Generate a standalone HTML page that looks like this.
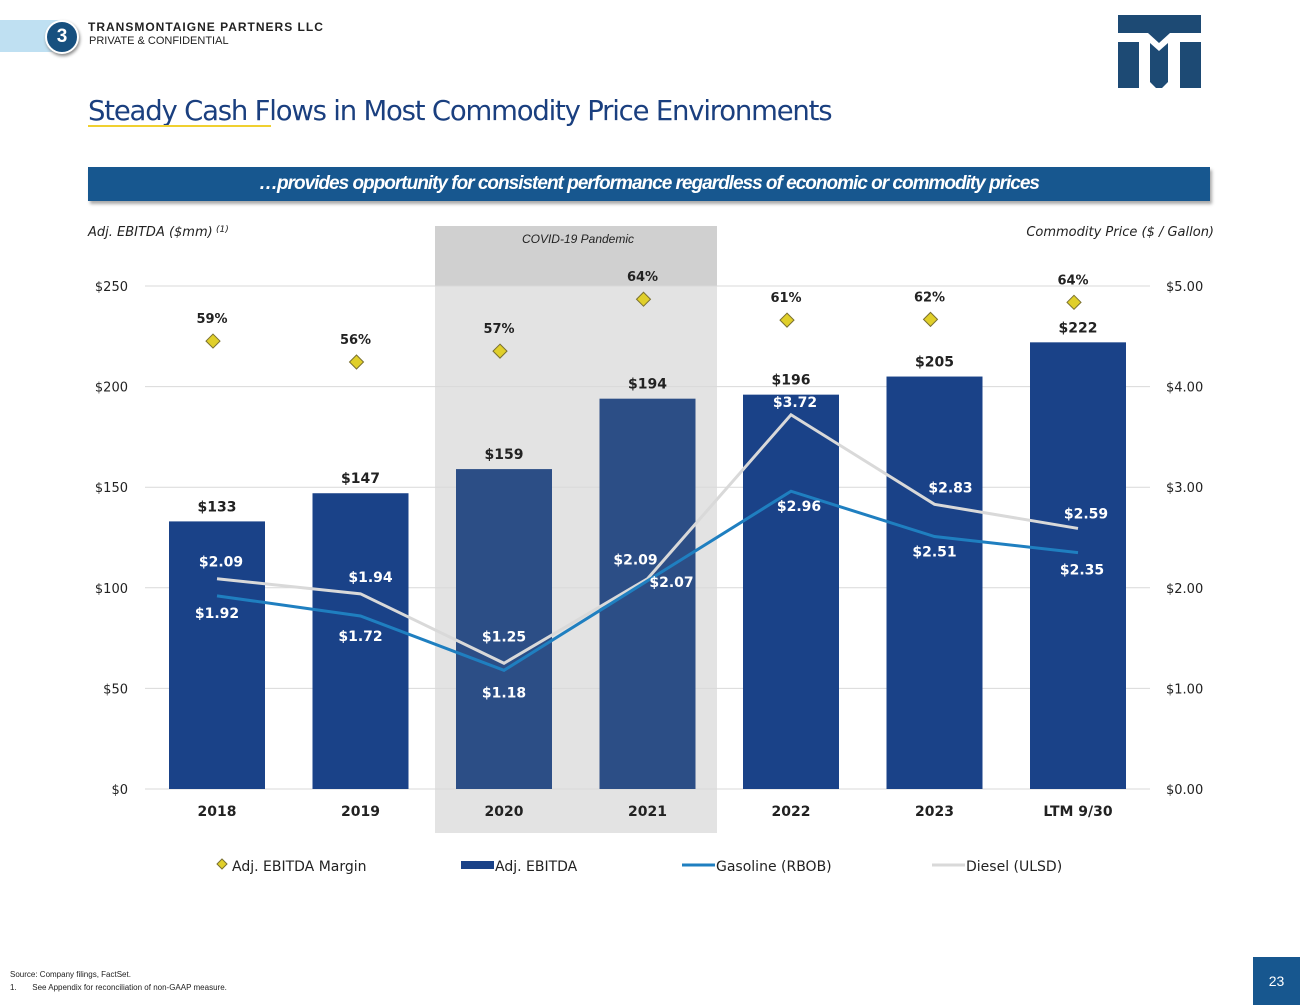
<!DOCTYPE html>
<html><head><meta charset="utf-8"><style>
body{margin:0;width:1300px;height:1005px;background:#fff;font-family:"Liberation Sans",sans-serif;position:relative;overflow:hidden}
.abs{position:absolute}
</style></head><body>
<div class="abs" style="left:0;top:20px;width:60px;height:32px;background:#bfe0f2"></div>
<div class="abs" style="left:45px;top:20px;width:30px;height:30px;border-radius:50%;background:#17507f;border:2px solid #fff;box-shadow:1px 2px 3px #888;color:#fff;font:bold 19px 'Liberation Sans';text-align:center;line-height:30px">3</div>
<div class="abs" style="left:88px;top:20px;font:bold 12px 'Liberation Sans';letter-spacing:1px;color:#222">TRANSMONTAIGNE PARTNERS LLC</div>
<div class="abs" style="left:89px;top:35px;font:11px 'Liberation Sans';color:#222">PRIVATE &amp; CONFIDENTIAL</div>
<svg class="abs" style="left:1118px;top:15px" width="83" height="73"><path fill="#1d4a74" d="M0 0H83V18H52L41 28L30 18H0Z M0 27H21V73H0Z M62 27H83V73H62Z M32 28L41 36L50 28V67L41 76L32 67Z"/></svg>
<div class="abs" style="left:88px;top:95px;font:27.5px 'DejaVu Sans','Liberation Sans',sans-serif;letter-spacing:-1.2px;color:#1a3f7f">Steady Cash Flows in Most Commodity Price Environments</div>
<div class="abs" style="left:88px;top:125px;width:183px;height:2px;background:#f0d030"></div>
<div class="abs" style="left:88px;top:167px;width:1122px;height:34px;background:#17578f;box-shadow:2px 3px 3px #aaa;color:#fff;font:bold italic 19px 'Liberation Sans';letter-spacing:-1px;text-align:center;line-height:34px">…provides opportunity for consistent performance regardless of economic or commodity prices</div>
<svg class="abs" style="left:0;top:0" width="1300" height="1005" id="chart"></svg>
<div class="abs" style="left:10px;top:968px;font:8px 'Liberation Sans';color:#222;line-height:13px">Source: Company filings, FactSet.<br>1.&nbsp;&nbsp;&nbsp;&nbsp;&nbsp;&nbsp;&nbsp;See Appendix for reconciliation of non-GAAP measure.</div>
<div class="abs" style="left:1253px;top:957px;width:47px;height:48px;background:#17578f;color:#fff;font:14px 'Liberation Sans';text-align:center;line-height:48px">23</div>
<script>
const categories=["2018","2019","2020","2021","2022","2023","LTM 9/30"];
const ebitda=[133,147,159,194,196,205,222];
const gasoline=[1.92,1.72,1.18,2.07,2.96,2.51,2.35];
const diesel=[2.09,1.94,1.25,2.09,3.72,2.83,2.59];
const margin=[58.7,56.0,57.4,64.1,61.4,61.5,63.7];
const leftTicks=[0,50,100,150,200,250];
const rightTicks=[0,1,2,3,4,5];
const gasOff=[[0,22],[0,25],[0,27],[24,6],[8,20],[0,20],[4,22]];
const dieOff=[[4,-12],[10,-12],[0,-22],[-12,-14],[4,-8],[16,-12],[8,-10]];
const NS="http://www.w3.org/2000/svg";
const svg=document.getElementById('chart');
const y0=789,yTop=286;
const yL=v=>y0-(v/250)*(y0-yTop);
const yR=v=>y0-(v/5)*(y0-yTop);
const yM=m=>300+(64-m)*7.75;
const xC=i=>217+i*143.5;
function mk(t,a,txt){const e=document.createElementNS(NS,t);for(const k in a)e.setAttribute(k,a[k]);if(txt!=null)e.textContent=txt;svg.appendChild(e);return e;}
let e=mk('rect',{x:435,y:226,width:282,height:607,fill:'#e3e3e3'});

e=mk('rect',{x:435,y:226,width:282,height:60,fill:'#d0d0d0'});

e=mk('text',{x:578,y:243,'text-anchor':'middle','font-size':12,'font-style':'italic','font-family':'Liberation Sans',fill:'#222'},'COVID-19 Pandemic');

leftTicks.forEach((t,i)=>{
 e=mk('line',{x1:145,x2:1150,y1:yL(t),y2:yL(t),stroke:'#d9d9d9','stroke-width':1});
 
 e=mk('text',{x:128,y:yL(t)+5,'text-anchor':'end','font-size':13,'font-family':'DejaVu Sans',fill:'#222'},'$'+t);
 
});
rightTicks.forEach(t=>{
 e=mk('text',{x:1166,y:yR(t)+5,'font-size':13,'font-family':'DejaVu Sans',fill:'#222'},'$'+t.toFixed(2));
 
});
e=mk('text',{x:88,y:236,'font-size':13,'font-style':'italic','font-family':'DejaVu Sans',fill:'#222'},'Adj. EBITDA ($mm)');

e=mk('text',{x:216,y:232,'font-size':9,'font-style':'italic','font-family':'DejaVu Sans',fill:'#222'},'(1)');

e=mk('text',{x:1214,y:236,'text-anchor':'end','font-size':13,'font-style':'italic','font-family':'DejaVu Sans',fill:'#222'},'Commodity Price ($ / Gallon)');

ebitda.forEach((v,i)=>{
 const cov=(i==2||i==3);
 e=mk('rect',{x:xC(i)-48,y:yL(v),width:96,height:y0-yL(v),fill:cov?'#2c4e86':'#1a4288'});
 
 e=mk('text',{x:xC(i),y:yL(v)-10,'text-anchor':'middle','font-size':14,'font-weight':'bold','font-family':'DejaVu Sans',fill:'#222'},'$'+v);
 
 e=mk('text',{x:xC(i),y:816,'text-anchor':'middle','font-size':14,'font-weight':'bold','font-family':'DejaVu Sans',fill:'#222'},categories[i]);
 
});
function line(vals,col,name){
 e=mk('polyline',{points:vals.map((v,i)=>xC(i)+','+yR(v)).join(' '),fill:'none',stroke:col,'stroke-width':3});
 
}
line(diesel,'#d9d9d9','diesel-line');
line(gasoline,'#1f7fc0','gasoline-line');
gasoline.forEach((v,i)=>{
 e=mk('text',{x:xC(i)+gasOff[i][0],y:yR(v)+gasOff[i][1],'text-anchor':'middle','font-size':14,'font-weight':'bold','font-family':'DejaVu Sans',fill:'#fff'},'$'+v.toFixed(2));
 
});
diesel.forEach((v,i)=>{
 e=mk('text',{x:xC(i)+dieOff[i][0],y:yR(v)+dieOff[i][1],'text-anchor':'middle','font-size':14,'font-weight':'bold','font-family':'DejaVu Sans',fill:'#fff'},'$'+v.toFixed(2));
 
});
margin.forEach((m,i)=>{
 const x=xC(i)-4,y=yM(m);
 e=mk('polygon',{points:`${x},${y-7} ${x+7},${y} ${x},${y+7} ${x-7},${y}`,fill:'#e0cf2a',stroke:'#7a7030','stroke-width':1});
 
 e=mk('text',{x:x-1,y:y-18,'text-anchor':'middle','font-size':13,'font-weight':'bold','font-family':'DejaVu Sans',fill:'#222'},Math.round(m)+'%');
 
});
e=mk('polygon',{points:'222,859 227,864 222,869 217,864',fill:'#e0cf2a',stroke:'#7a7030'});

e=mk('text',{x:232,y:871,'font-size':14,'font-family':'DejaVu Sans',fill:'#222'},'Adj. EBITDA Margin');

e=mk('rect',{x:461,y:861,width:33,height:8,fill:'#1a4288'});

e=mk('text',{x:495,y:871,'font-size':14,'font-family':'DejaVu Sans',fill:'#222'},'Adj. EBITDA');

e=mk('line',{x1:682,x2:715,y1:865,y2:865,stroke:'#1f7fc0','stroke-width':3});

e=mk('text',{x:716,y:871,'font-size':14,'font-family':'DejaVu Sans',fill:'#222'},'Gasoline (RBOB)');

e=mk('line',{x1:932,x2:965,y1:865,y2:865,stroke:'#d9d9d9','stroke-width':3});

e=mk('text',{x:966,y:871,'font-size':14,'font-family':'DejaVu Sans',fill:'#222'},'Diesel (ULSD)');

</script>
</body></html>
